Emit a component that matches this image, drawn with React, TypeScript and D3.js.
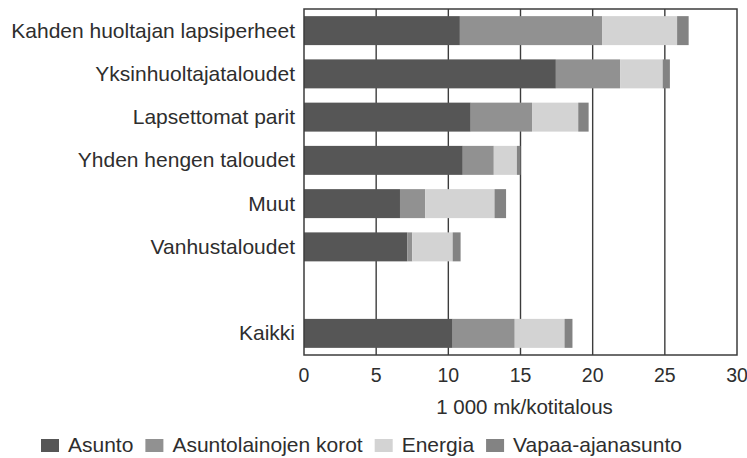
import React, { useEffect, useRef } from "react";
import * as d3 from "d3";

const categories = [
  "Kahden huoltajan lapsiperheet",
  "Yksinhuoltajataloudet",
  "Lapsettomat parit",
  "Yhden hengen taloudet",
  "Muut",
  "Vanhustaloudet",
  "Kaikki",
];
const seriesNames = ["Asunto", "Asuntolainojen korot", "Energia", "Vapaa-ajanasunto"];
const asunto = [10.8, 17.45, 11.55, 11.0, 6.65, 7.15, 10.3];
const korot = [9.85, 4.45, 4.25, 2.15, 1.75, 0.35, 4.3];
const energia = [5.2, 2.95, 3.2, 1.6, 4.8, 2.8, 3.45];
const vapaa = [0.8, 0.5, 0.72, 0.25, 0.8, 0.55, 0.55];
const xTicks = [0, 5, 10, 15, 20, 25, 30];
const xTitle = "1 000 mk/kotitalous";
const colors = ["#565656", "#919191", "#d3d3d3", "#838383"];

const W = 747;
const H = 458;
const M = { left: 304, right: 10, top: 9, bottom: 103 };
const FONT = "'Liberation Sans', Arial, Helvetica, sans-serif";
const TEXT = "#2e2e2e";
const LINE = "#3c3c3c";

export default function App() {
  const ref = useRef<SVGSVGElement>(null);

  useEffect(() => {
    const svg = d3.select(ref.current);
    svg.selectAll("*").remove();

    const x = d3.scaleLinear().domain([0, 30]).range([M.left, W - M.right]);
    const domain = [...categories.slice(0, 6), "__gap", categories[6]];
    const y = d3
      .scaleBand<string>()
      .domain(domain)
      .range([M.top, H - M.bottom])
      .paddingInner(0.33)
      .paddingOuter(0.165);

    const rows = categories.map((c, i) => ({
      cat: c,
      vals: [asunto[i], korot[i], energia[i], vapaa[i]],
    }));

    const plotTop = M.top;
    const plotBottom = H - M.bottom;

    // gridlines
    svg
      .append("g")
      .selectAll("line")
      .data(xTicks.slice(1, -1))
      .join("line")
      .attr("x1", (d) => x(d))
      .attr("x2", (d) => x(d))
      .attr("y1", plotTop)
      .attr("y2", plotBottom)
      .attr("stroke", LINE)
      .attr("stroke-width", 1.4);

    // bars
    const g = svg.append("g");
    rows.forEach((r) => {
      let acc = 0;
      r.vals.forEach((v, j) => {
        g.append("rect")
          .attr("x", x(acc))
          .attr("y", y(r.cat)!)
          .attr("width", x(acc + v) - x(acc))
          .attr("height", y.bandwidth())
          .attr("fill", colors[j]);
        acc += v;
      });
    });

    // frame
    svg
      .append("rect")
      .attr("x", x(0))
      .attr("y", plotTop)
      .attr("width", x(30) - x(0))
      .attr("height", plotBottom - plotTop)
      .attr("fill", "none")
      .attr("stroke", LINE)
      .attr("stroke-width", 1.5);

    // category labels
    svg
      .append("g")
      .selectAll("text")
      .data(categories)
      .join("text")
      .attr("x", x(0) - 9)
      .attr("y", (d) => y(d)! + y.bandwidth() / 2)
      .attr("dy", "0.33em")
      .attr("text-anchor", "end")
      .attr("font-family", FONT)
      .attr("font-size", 21)
      .attr("fill", TEXT)
      .text((d) => d);

    // x tick labels
    svg
      .append("g")
      .selectAll("text")
      .data(xTicks)
      .join("text")
      .attr("x", (d) => x(d))
      .attr("y", plotBottom + 27)
      .attr("text-anchor", "middle")
      .attr("font-family", FONT)
      .attr("font-size", 19.5)
      .attr("fill", TEXT)
      .text((d) => String(d));

    // x title
    svg
      .append("text")
      .attr("x", (x(0) + x(30)) / 2 + 4)
      .attr("y", plotBottom + 59)
      .attr("text-anchor", "middle")
      .attr("font-family", FONT)
      .attr("font-size", 20.5)
      .attr("fill", TEXT)
      .text(xTitle);

    // legend
    const lg = svg.append("g");
    let lx = 41;
    const ly = 452;
    seriesNames.forEach((name, i) => {
      lg.append("rect")
        .attr("x", lx)
        .attr("y", ly - 13)
        .attr("width", 18)
        .attr("height", 13)
        .attr("fill", colors[i]);
      const t = lg
        .append("text")
        .attr("x", lx + 27)
        .attr("y", ly)
        .attr("font-family", FONT)
        .attr("font-size", 21)
        .attr("fill", TEXT)
        .text(name);
      const w = (t.node() as SVGTextElement).getComputedTextLength();
      lx = lx + 27 + w + 12;
    });
  }, []);

  return (
    <svg
      ref={ref}
      width={W}
      height={H}
      style={{ position: "absolute", left: 0, top: 0, background: "#fff" }}
    />
  );
}
